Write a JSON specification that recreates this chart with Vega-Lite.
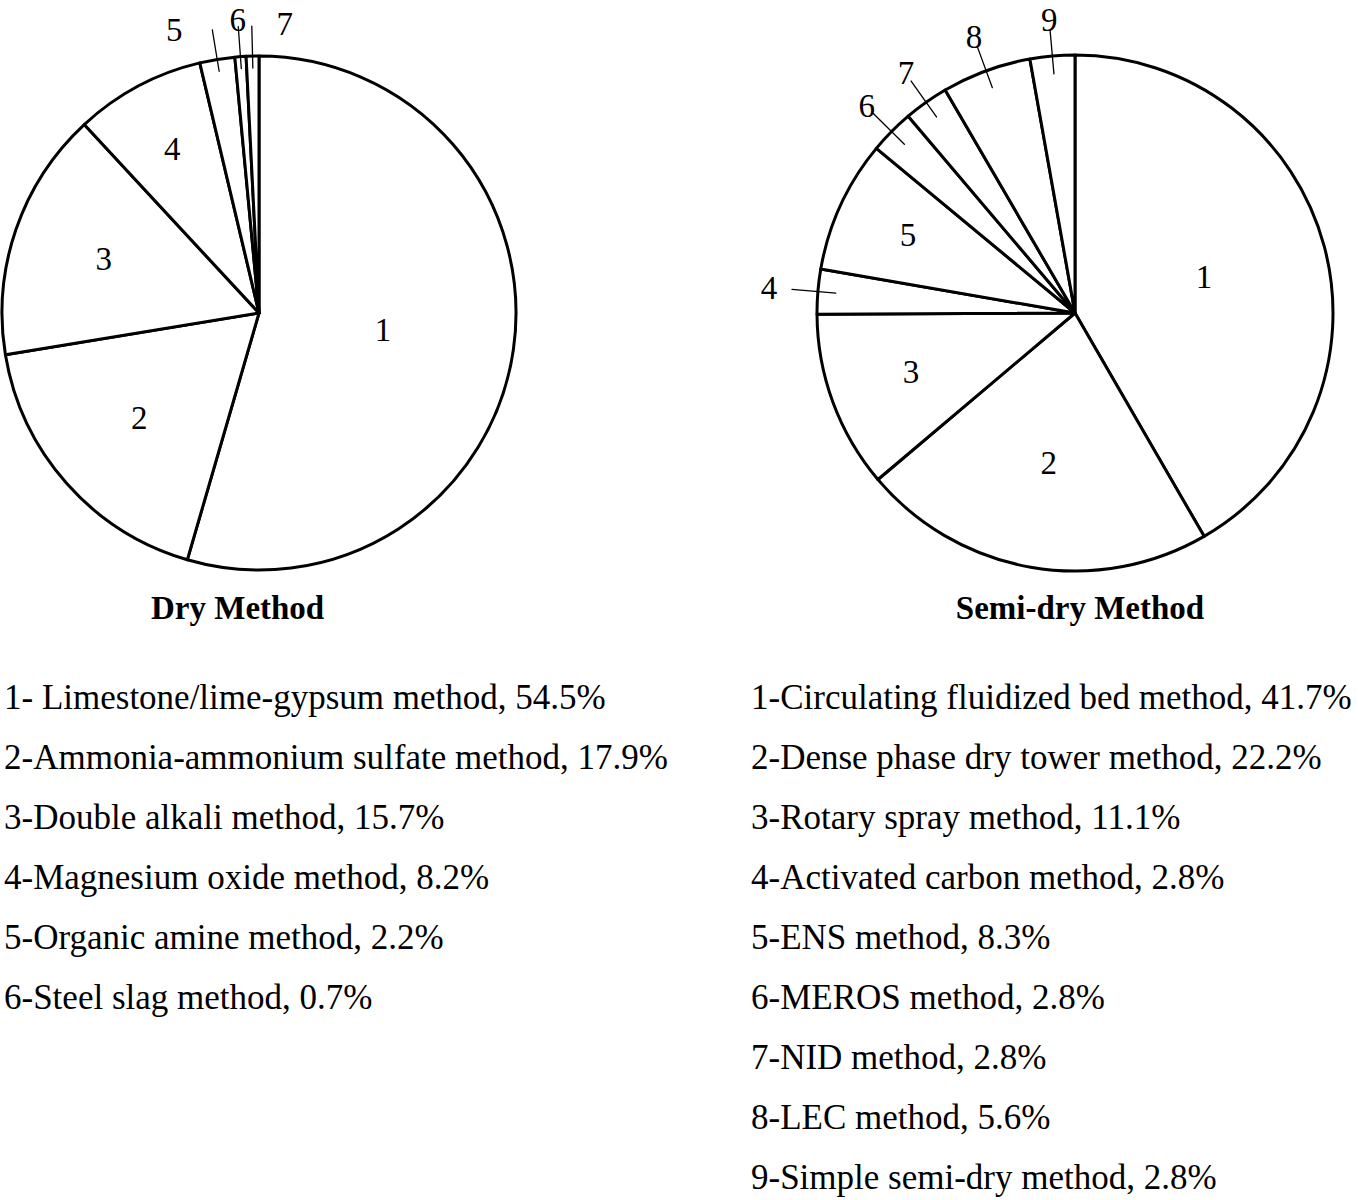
{
  "$schema": "https://vega.github.io/schema/vega-lite/v6.json",
  "padding": {"left": 0, "top": 0, "right": 0, "bottom": 0},
  "spacing": 0,
  "background": "white",
  "config": {
    "view": {"stroke": null},
    "font": "Liberation Serif",
    "title": {"font": "Liberation Serif"}
  },
  "datasets": {
    "dry": [
      {"n": 1, "pct": 54.5, "label": "1- Limestone/lime-gypsum method, 54.5%"},
      {"n": 2, "pct": 17.9, "label": "2-Ammonia-ammonium sulfate method, 17.9%"},
      {"n": 3, "pct": 15.7, "label": "3-Double alkali method, 15.7%"},
      {"n": 4, "pct": 8.2, "label": "4-Magnesium oxide method, 8.2%"},
      {"n": 5, "pct": 2.2, "label": "5-Organic amine method, 2.2%"},
      {"n": 6, "pct": 0.7, "label": "6-Steel slag method, 0.7%"},
      {"n": 7, "pct": 0.8, "label": ""}
    ],
    "semi": [
      {"n": 1, "pct": 41.7, "label": "1-Circulating fluidized bed method, 41.7%"},
      {"n": 2, "pct": 22.2, "label": "2-Dense phase dry tower method, 22.2%"},
      {"n": 3, "pct": 11.1, "label": "3-Rotary spray method, 11.1%"},
      {"n": 4, "pct": 2.8, "label": "4-Activated carbon method, 2.8%"},
      {"n": 5, "pct": 8.3, "label": "5-ENS method, 8.3%"},
      {"n": 6, "pct": 2.8, "label": "6-MEROS method, 2.8%"},
      {"n": 7, "pct": 2.8, "label": "7-NID method, 2.8%"},
      {"n": 8, "pct": 5.6, "label": "8-LEC method, 5.6%"},
      {"n": 9, "pct": 2.8, "label": "9-Simple semi-dry method, 2.8%"}
    ]
  },
  "hconcat": [
    {
      "spacing": 42,
      "vconcat": [
        {
          "width": 510,
          "height": 626,
          "data": {"name": "dry"},
          "title": {"text": "Dry Method", "orient": "bottom", "anchor": "start", "frame": "group", "offset": -33, "dx": 147, "fontSize": 33, "fontWeight": "bold", "color": "black"},
          "layer": [
            {
              "mark": {"type": "arc", "radius": 257, "fill": "white", "stroke": "black", "strokeWidth": 3, "strokeJoin": "round"},
              "encoding": {
                "theta": {"field": "pct", "type": "quantitative", "stack": true},
                "order": {"field": "n", "type": "quantitative"},
                "detail": {"field": "n", "type": "nominal"}
              }
            },
            {
              "mark": {"type": "arc", "radius": {"expr": "datum.pct < 6 ? 287 : 0"}, "radius2": {"expr": "datum.pct < 6 ? 245 : 0"}, "padAngle": 0.6, "fillOpacity": 0, "stroke": "black", "strokeWidth": 1.3, "strokeJoin": "round"},
              "encoding": {
                "theta": {"field": "pct", "type": "quantitative", "stack": true},
                "order": {"field": "n", "type": "quantitative"},
                "detail": {"field": "n", "type": "nominal"},
                "strokeOpacity": {"condition": {"test": "datum.pct < 6", "value": 1}, "value": 0}
              }
            },
            {
              "mark": {"type": "text", "fontSize": 33, "align": "center", "baseline": "middle", "color": "black"},
              "encoding": {
                "theta": {"field": "pct", "type": "quantitative", "stack": true},
                "order": {"field": "n", "type": "quantitative"},
                "detail": {"field": "n", "type": "nominal"},
                "radius": {"field": "pct", "type": "quantitative", "scale": {"type": "log", "domain": [8, 55], "range": [185, 125]}},
                "text": {"condition": {"test": "datum.pct >= 6", "field": "n"}, "value": ""}
              }
            },
            {
              "mark": {"type": "text", "radius": {"expr": "datum.pct < 6 ? 293 : 0"}, "fontSize": 33, "align": "center", "baseline": "middle", "color": "black",
                       "dx": {"expr": "datum.n == 5 ? -37 : datum.n == 7 ? 33 : 0"},
                       "dy": {"expr": "datum.n == 5 ? 7 : datum.n == 7 ? 5 : 0"}},
              "encoding": {
                "theta": {"field": "pct", "type": "quantitative", "stack": true},
                "order": {"field": "n", "type": "quantitative"},
                "detail": {"field": "n", "type": "nominal"},
                "text": {"condition": {"test": "datum.pct < 6", "field": "n"}, "value": ""}
              }
            }
          ]
        },
        {
          "width": 747,
          "height": {"step": 60},
          "data": {"name": "dry"},
          "mark": {"type": "text", "align": "left", "baseline": "middle", "fontSize": 35, "color": "black"},
          "encoding": {
            "y": {"field": "n", "type": "ordinal", "axis": null, "scale": {"type": "point", "domain": [1, 2, 3, 4, 5, 6, 7, 8, 9]}},
            "x": {"value": 0},
            "text": {"field": "label"}
          }
        }
      ]
    },
    {
      "spacing": 42,
      "vconcat": [
        {
          "width": 648,
          "height": 626,
          "data": {"name": "semi"},
          "title": {"text": "Semi-dry Method", "orient": "bottom", "frame": "group", "offset": -33, "dx": 5, "fontSize": 33, "fontWeight": "bold", "color": "black"},
          "layer": [
            {
              "mark": {"type": "arc", "radius": 258, "fill": "white", "stroke": "black", "strokeWidth": 3, "strokeJoin": "round"},
              "encoding": {
                "theta": {"field": "pct", "type": "quantitative", "stack": true},
                "order": {"field": "n", "type": "quantitative"},
                "detail": {"field": "n", "type": "nominal"}
              }
            },
            {
              "mark": {"type": "arc", "radius": {"expr": "datum.pct < 6 ? 284 : 0"}, "radius2": {"expr": "datum.pct < 6 ? 240 : 0"}, "padAngle": 0.6, "fillOpacity": 0, "stroke": "black", "strokeWidth": 1.3, "strokeJoin": "round"},
              "encoding": {
                "theta": {"field": "pct", "type": "quantitative", "stack": true},
                "order": {"field": "n", "type": "quantitative"},
                "detail": {"field": "n", "type": "nominal"},
                "strokeOpacity": {"condition": {"test": "datum.pct < 6", "value": 1}, "value": 0}
              }
            },
            {
              "mark": {"type": "text", "fontSize": 33, "align": "center", "baseline": "middle", "color": "black"},
              "encoding": {
                "theta": {"field": "pct", "type": "quantitative", "stack": true},
                "order": {"field": "n", "type": "quantitative"},
                "detail": {"field": "n", "type": "nominal"},
                "radius": {"field": "pct", "type": "quantitative", "scale": {"type": "log", "domain": [8, 55], "range": [185, 125]}},
                "text": {"condition": {"test": "datum.pct >= 6", "field": "n"}, "value": ""}
              }
            },
            {
              "mark": {"type": "text", "radius": {"expr": "datum.pct < 6 ? 293 : 0"}, "fontSize": 33, "align": "center", "baseline": "middle", "color": "black",
                       "dx": {"expr": "datum.n == 4 ? -14 : 0"}},
              "encoding": {
                "theta": {"field": "pct", "type": "quantitative", "stack": true},
                "order": {"field": "n", "type": "quantitative"},
                "detail": {"field": "n", "type": "nominal"},
                "text": {"condition": {"test": "datum.pct < 6", "field": "n"}, "value": ""}
              }
            }
          ]
        },
        {
          "width": 606,
          "height": {"step": 60},
          "data": {"name": "semi"},
          "mark": {"type": "text", "align": "left", "baseline": "middle", "fontSize": 35, "color": "black"},
          "encoding": {
            "y": {"field": "n", "type": "ordinal", "axis": null, "scale": {"type": "point", "domain": [1, 2, 3, 4, 5, 6, 7, 8, 9]}},
            "x": {"value": 0},
            "text": {"field": "label"}
          }
        }
      ]
    }
  ]
}
